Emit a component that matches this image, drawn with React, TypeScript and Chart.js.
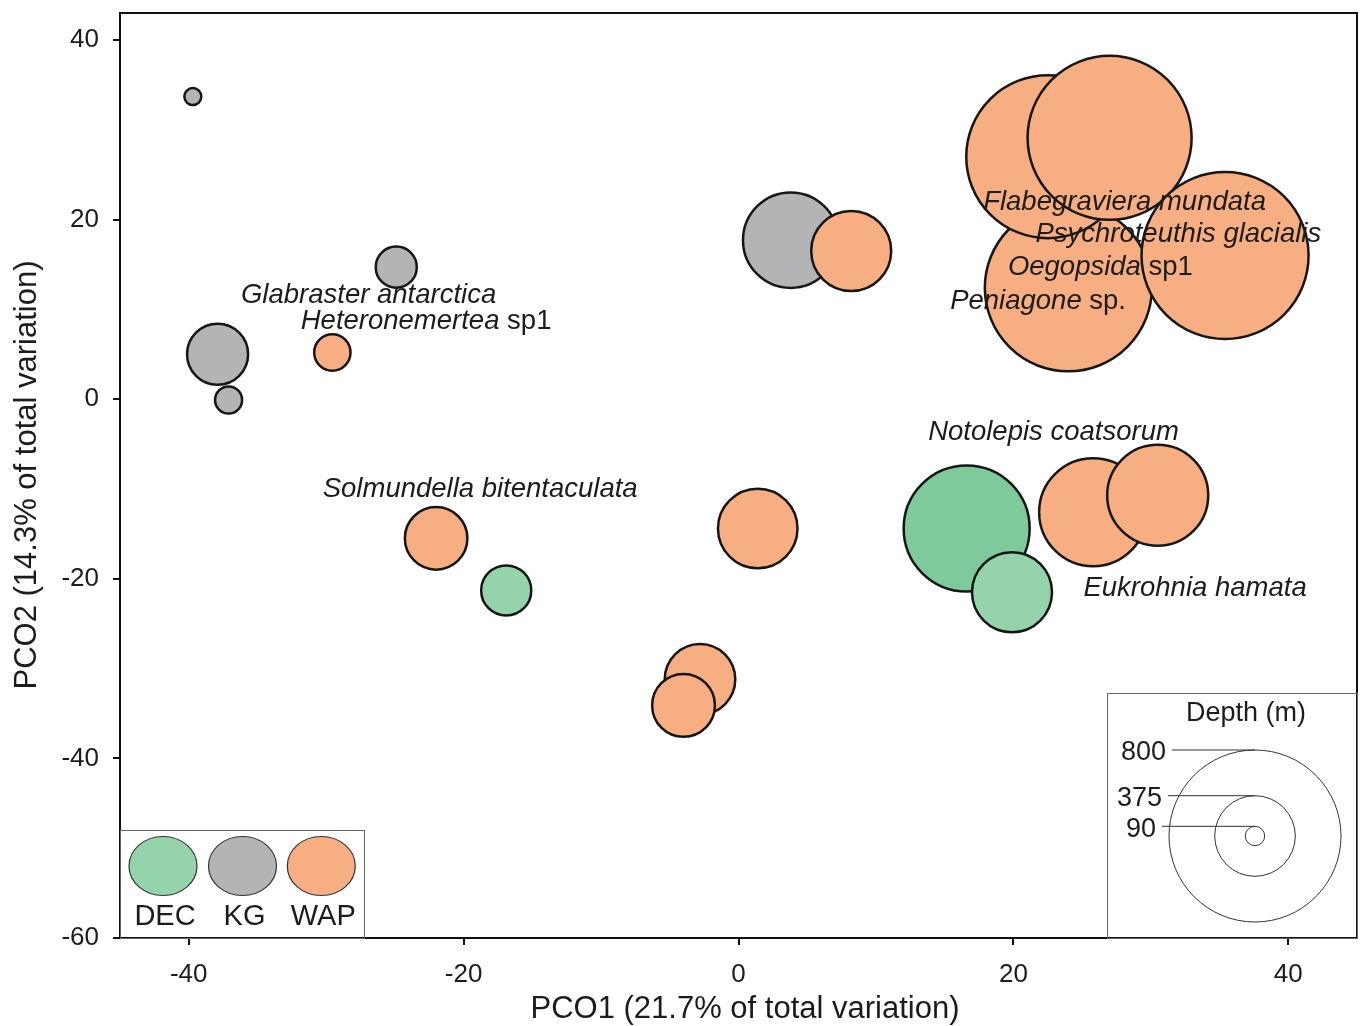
import React, { useEffect, useRef } from 'react';
import { Chart, registerables } from 'chart.js';

Chart.register(...registerables);

// ---------- DATA ----------
const groups = ['KG', 'KG', 'KG', 'KG', 'WAP', 'WAP', 'DEC', 'WAP', 'WAP', 'WAP', 'KG', 'WAP', 'WAP', 'WAP', 'WAP', 'WAP', 'DEC', 'DEC', 'WAP', 'WAP'];
const pco1 = [-39.7, -24.9, -37.9, -37.1, -29.55, -22.0, -16.9, 1.4, -2.8, -4.0, 3.8, 8.2, 24.0, 22.5, 27.0, 35.4, 16.6, 19.9, 25.8, 30.5];
const pco2 = [33.7, 14.7, 5.0, -0.1, 5.2, -15.5, -21.3, -14.4, -31.2, -34.1, 17.7, 16.5, 12.4, 27.0, 29.1, 16.0, -14.4, -21.5, -12.6, -10.7];
const depthM = [79, 191, 284, 126, 169, 291, 233, 370, 328, 292, 444, 372, 777, 758, 763, 777, 586, 372, 502, 470];

const xTicks = [-40, -20, 0, 20, 40];
const yTicks = [-60, -40, -20, 0, 20, 40];

const legendGroups = ['DEC', 'KG', 'WAP'];
const legendDepths = [800, 375, 90];

const speciesNames = ['Glabraster antarctica', 'Heteronemertea', 'Solmundella bitentaculata', 'Notolepis coatsorum', 'Eukrohnia hamata', 'Flabegraviera mundata', 'Psychroteuthis glacialis', 'Oegopsida', 'Peniagone'];
const speciesSuffix = ['', ' sp1', '', '', '', '', '', ' sp1', ' sp.'];
const speciesX = [-36.2, -31.85, -30.25, 13.8, 25.1, 17.8, 21.6, 19.6, 15.4];
const speciesY = [11.6, 8.7, -10.0, -3.7, -21.1, 21.95, 18.4, 14.7, 10.9];

const xTitle = 'PCO1 (21.7% of total variation)';
const yTitle = 'PCO2 (14.3% of total variation)';
const depthTitle = 'Depth (m)';

// ---------- STYLE ----------
const FONT = '"Liberation Sans", Arial, sans-serif';
const groupColors: Record<string, string> = { DEC: '#95d3aa', KG: '#b3b4b6', WAP: '#f7ae82' };
const darkerDecIndex = 16;
const PX_PER_M = 0.1075;
const TEXT = '#1c1c1c';

export default function App() {
  const ref = useRef<HTMLCanvasElement | null>(null);

  useEffect(() => {
    const canvas = ref.current;
    if (!canvas) return;

    const bubbleData = pco1.map((x, i) => ({ x, y: pco2[i], r: depthM[i] * PX_PER_M }));
    const fills = groups.map((g, i) => (i === darkerDecIndex ? '#7fca9b' : groupColors[g]));

    const overlay = {
      id: 'overlay',
      afterDraw(chart: any) {
        const ctx = chart.ctx as CanvasRenderingContext2D;
        const area = chart.chartArea;
        const xs = chart.scales.x;
        const ys = chart.scales.y;
        ctx.save();

        // species labels
        ctx.fillStyle = TEXT;
        ctx.textBaseline = 'middle';
        ctx.textAlign = 'left';
        speciesNames.forEach((name, i) => {
          const px = xs.getPixelForValue(speciesX[i]);
          const py = ys.getPixelForValue(speciesY[i]);
          ctx.font = `italic 27.5px ${FONT}`;
          ctx.fillText(name, px, py);
          const w = ctx.measureText(name).width;
          if (speciesSuffix[i]) {
            ctx.font = `27.5px ${FONT}`;
            ctx.fillText(speciesSuffix[i], px + w, py);
          }
        });

        // frame
        ctx.strokeStyle = '#111';
        ctx.lineWidth = 2;
        ctx.strokeRect(area.left, area.top, area.right - area.left, area.bottom - area.top);

        // group legend box (bottom-left)
        const gbL = area.left, gbT = 830, gbR = 364, gbB = area.bottom;
        ctx.fillStyle = '#fff';
        ctx.fillRect(gbL + 1, gbT, gbR - gbL - 1, gbB - gbT - 1);
        ctx.strokeStyle = '#666';
        ctx.lineWidth = 1;
        ctx.strokeRect(gbL + 0.5, gbT + 0.5, gbR - gbL, gbB - gbT);
        const gcx = [163, 242.5, 321.3];
        legendGroups.forEach((g, i) => {
          ctx.beginPath();
          ctx.ellipse(gcx[i], 866, 34, 29.5, 0, 0, Math.PI * 2);
          ctx.fillStyle = groupColors[g];
          ctx.fill();
          ctx.strokeStyle = '#333';
          ctx.lineWidth = 1.2;
          ctx.stroke();
          ctx.fillStyle = TEXT;
          ctx.font = `29px ${FONT}`;
          ctx.textAlign = 'center';
          ctx.textBaseline = 'middle';
          ctx.fillText(g, gcx[i] + 2, 917);
        });

        // depth legend box (bottom-right)
        const dbL = 1107, dbT = 693, dbR = area.right, dbB = area.bottom;
        ctx.fillStyle = '#fff';
        ctx.fillRect(dbL, dbT, dbR - dbL - 1, dbB - dbT - 1);
        ctx.strokeStyle = '#666';
        ctx.lineWidth = 1;
        ctx.strokeRect(dbL + 0.5, dbT + 0.5, dbR - dbL, dbB - dbT);
        ctx.fillStyle = TEXT;
        ctx.font = `27px ${FONT}`;
        ctx.textAlign = 'center';
        ctx.textBaseline = 'middle';
        ctx.fillText(depthTitle, 1246, 714);
        const ccx = 1255, ccy = 836;
        const lineStart = [1172, 1168, 1162];
        legendDepths.forEach((d, i) => {
          const r = d * PX_PER_M;
          ctx.beginPath();
          ctx.arc(ccx, ccy, r, 0, Math.PI * 2);
          ctx.strokeStyle = '#333';
          ctx.lineWidth = 1;
          ctx.stroke();
          ctx.beginPath();
          ctx.moveTo(lineStart[i], ccy - r);
          ctx.lineTo(ccx, ccy - r);
          ctx.stroke();
          ctx.fillStyle = TEXT;
          ctx.font = `27px ${FONT}`;
          ctx.textAlign = 'right';
          ctx.textBaseline = 'middle';
          ctx.fillText(String(d), lineStart[i] - 6, ccy - r + 3);
        });

        // axis titles
        ctx.fillStyle = TEXT;
        ctx.font = `31px ${FONT}`;
        ctx.textAlign = 'center';
        ctx.textBaseline = 'middle';
        ctx.fillText(xTitle, 745, 1009);
        ctx.translate(27, 475);
        ctx.rotate(-Math.PI / 2);
        ctx.fillText(yTitle, 0, 0);
        ctx.restore();
      },
    };

    const chart = new Chart(canvas, {
      type: 'bubble',
      data: {
        datasets: [
          {
            data: bubbleData,
            backgroundColor: fills,
            borderColor: '#161616',
            borderWidth: 2.5,
            hoverRadius: 0,
            hoverBorderWidth: 2.5,
            clip: false as any,
          },
        ],
      },
      options: {
        responsive: false,
        animation: false,
        events: [],
        layout: { autoPadding: false, padding: { top: 13, right: 4, left: 0, bottom: 0 } },
        plugins: { legend: { display: false }, tooltip: { enabled: false } },
        scales: {
          x: {
            type: 'linear',
            min: -45,
            max: 45,
            afterBuildTicks: (s: any) => {
              s.ticks = xTicks.map((v) => ({ value: v }));
            },
            afterFit: (s: any) => {
              s.height = 88;
              s.paddingLeft = 0;
              s.paddingRight = 0;
            },
            border: { display: false },
            grid: { display: true, drawOnChartArea: false, drawTicks: true, tickLength: 7, color: '#111', lineWidth: 2 },
            ticks: { color: TEXT, font: { family: FONT, size: 26 }, padding: 14, maxRotation: 0, autoSkip: false },
          },
          y: {
            type: 'linear',
            min: -60,
            max: 43,
            afterBuildTicks: (s: any) => {
              s.ticks = yTicks.map((v) => ({ value: v }));
            },
            afterFit: (s: any) => {
              s.width = 120;
              s.paddingTop = 0;
              s.paddingBottom = 0;
            },
            border: { display: false },
            grid: { display: true, drawOnChartArea: false, drawTicks: true, tickLength: 7, color: '#111', lineWidth: 2 },
            ticks: { color: TEXT, font: { family: FONT, size: 26 }, padding: 14, autoSkip: false },
          },
        },
      },
      plugins: [overlay],
    });

    return () => chart.destroy();
  }, []);

  return (
    <div style={{ position: 'absolute', left: 0, top: 0, width: 1361, height: 1026, background: '#fff' }}>
      <canvas ref={ref} width={1361} height={1026} style={{ display: 'block' }} />
    </div>
  );
}
